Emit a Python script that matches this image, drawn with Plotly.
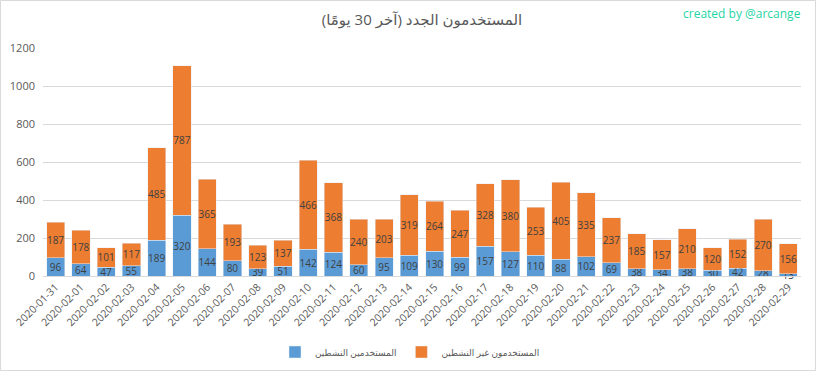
import plotly.graph_objects as go

dates = ["2020-01-31","2020-02-01","2020-02-02","2020-02-03","2020-02-04","2020-02-05",
         "2020-02-06","2020-02-07","2020-02-08","2020-02-09","2020-02-10","2020-02-11",
         "2020-02-12","2020-02-13","2020-02-14","2020-02-15","2020-02-16","2020-02-17",
         "2020-02-18","2020-02-19","2020-02-20","2020-02-21","2020-02-22","2020-02-23",
         "2020-02-24","2020-02-25","2020-02-26","2020-02-27","2020-02-28","2020-02-29"]
active = [96,64,47,55,189,320,144,80,39,51,142,124,60,95,109,130,99,157,127,110,88,102,69,38,34,38,30,42,28,13]
inactive = [187,178,101,117,485,787,365,193,123,137,466,368,240,203,319,264,247,328,380,253,405,335,237,185,157,210,120,152,270,156]

name_active = "المستخدمين النشطين"
name_inactive = "المستخدمون غير النشطين"
title_text = "المستخدمون الجدد (آخر 30 يومًا)"
credit_text = "created by @arcange"
y_ticks = [0,200,400,600,800,1000,1200]

FONT = "Open Sans, DejaVu Sans, sans-serif"
W, H = 816, 371
ML, MR, MT, MB = 43, 15, 48, 95
PW, PH = W-ML-MR, H-MT-MB

fig = go.Figure()
fig.add_trace(go.Bar(x=dates, y=active, name=name_active, marker_color="#5B9BD5",
                     text=[str(v) for v in active], textposition="inside",
                     insidetextanchor="middle", textangle=0, constraintext="none",
                     textfont=dict(size=10, color="#404040", family=FONT),
                     cliponaxis=False))
fig.add_trace(go.Bar(x=dates, y=inactive, name=name_inactive, marker_color="#ED7D31",
                     text=[str(v) for v in inactive], textposition="inside",
                     insidetextanchor="middle", textangle=0, constraintext="none",
                     textfont=dict(size=10, color="#404040", family=FONT)))

fig.update_layout(
    barmode="stack", bargap=0.28,
    width=W, height=H,
    margin=dict(l=ML, r=MR, t=MT, b=MB, autoexpand=False),
    paper_bgcolor="white", plot_bgcolor="white",
    font=dict(family=FONT, color="#595959", size=10),
    title=dict(text=title_text, x=0.5, xref="paper", y=1-20/H, yanchor="middle",
               font=dict(size=15, color="#595959", family=FONT)),
    legend=dict(orientation="h", x=(410-ML)/PW, xanchor="center", xref="paper",
                y=(276-352)/PH, yanchor="middle", font=dict(size=9, color="#595959"),
                itemwidth=30, traceorder="normal"),
    showlegend=True,
)
fig.update_xaxes(type="category", tickangle=-45, showgrid=False, showline=True,
                 linecolor="#d9d9d9", linewidth=1, ticks="", automargin=False,
                 tickfont=dict(size=10.5, color="#595959"))
fig.update_yaxes(range=[0,1200], tickvals=y_ticks, showgrid=True, gridcolor="#d9d9d9",
                 zeroline=False, showline=False, ticks="", automargin=False,
                 ticklabelstandoff=7,
                 tickfont=dict(size=11, color="#595959"))

fig.add_annotation(text=credit_text, xref="paper", yref="paper",
                   x=(803-ML)/PW, y=(276-13)/PH, xanchor="right", yanchor="middle",
                   showarrow=False, font=dict(size=12, color="#1fd4a4", family=FONT))

fig.add_shape(type="rect", xref="paper", yref="paper",
              x0=(0.5-ML)/PW, x1=(W-0.5-ML)/PW, y0=(276-(H-0.5))/PH, y1=(276-0.5)/PH,
              line=dict(color="#d9d9d9", width=1), layer="below")

fig.write_html("out.html", config={"displayModeBar": False},
               post_script="document.body.style.margin='0';document.body.style.overflow='hidden';")
